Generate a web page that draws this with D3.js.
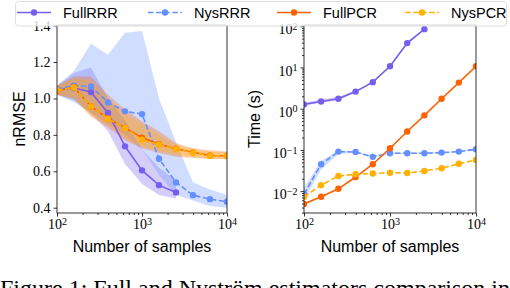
<!DOCTYPE html>
<html>
<head>
<meta charset="utf-8">
<script src="https://cdn.jsdelivr.net/npm/d3@7"></script>
<style>
body { margin: 0; background: #fff; }
svg { display: block; }
.axis text { font-family: "Liberation Serif", serif; font-size: 14px; fill: #000; }
.axis path, .axis line { stroke: #000; stroke-width: 0.8; }
.label { font-family: "Liberation Sans", Arial, sans-serif; font-size: 16px; }
.legend text { font-family: "Liberation Sans", Arial, sans-serif; font-size: 14.5px; }
</style>
</head>
<body>
<div id="chart"></div>
<script>
// Sample sizes (x axis, shared by both panels)
const samples = [100, 158, 251, 398, 631, 1000, 1585, 2512, 3981, 6310, 10000];

// Left panel: nRMSE
const fullRRRErr = [1.048, 1.057, 1.035, 0.92, 0.737, 0.605, 0.524, 0.484];
const fullRRRErrLo = [1.02, 0.99, 0.92, 0.82, 0.64, 0.53, 0.47, 0.45];
const fullRRRErrHi = [1.07, 1.14, 1.17, 1.0, 0.88, 0.72, 0.62, 0.55];
const nysRRRErr = [1.05, 1.07, 1.066, 0.978, 0.929, 0.914, 0.669, 0.539, 0.469, 0.447, 0.433];
const nysRRRErrLo = [1.02, 0.98, 0.92, 0.86, 0.8, 0.72, 0.58, 0.47, 0.44, 0.41, 0.40];
const nysRRRErrHi = [1.07, 1.15, 1.30, 1.24, 1.36, 1.37, 1.0, 0.76, 0.54, 0.50, 0.47];
const fullPCRErr = [1.042, 1.062, 0.956, 0.89, 0.838, 0.785, 0.748, 0.724, 0.704, 0.687, 0.685];
const fullPCRErrLo = [1.02, 1.0, 0.9, 0.84, 0.77, 0.727, 0.70, 0.68, 0.673, 0.668, 0.667];
const fullPCRErrHi = [1.07, 1.12, 1.12, 1.02, 0.94, 0.874, 0.82, 0.755, 0.727, 0.715, 0.709];
const nysPCRErr = [1.045, 1.06, 0.956, 0.888, 0.837, 0.773, 0.746, 0.722, 0.703, 0.685, 0.685];
const nysPCRErrLo = [1.02, 1.0, 0.91, 0.85, 0.78, 0.735, 0.71, 0.69, 0.678, 0.67, 0.668];
const nysPCRErrHi = [1.07, 1.11, 1.10, 1.0, 0.92, 0.86, 0.80, 0.745, 0.72, 0.708, 0.705];

// Right panel: time (s)
const fullRRRTime = [1.27, 1.5, 1.74, 2.6, 4.4, 10.7, 39, 85];
const fullRRRTimeLo = [1.2, 1.4, 1.6, 2.5, 4.2, 10.2, 37, 82];
const fullRRRTimeHi = [1.35, 1.7, 1.95, 2.75, 4.6, 11.2, 41, 88];
const nysRRRTime = [0.0085, 0.045, 0.091, 0.089, 0.068, 0.083, 0.083, 0.083, 0.086, 0.091, 0.104];
const nysRRRTimeLo = [0.006, 0.033, 0.08, 0.085, 0.065, 0.08, 0.08, 0.08, 0.083, 0.088, 0.1];
const nysRRRTimeHi = [0.012, 0.055, 0.096, 0.093, 0.072, 0.086, 0.086, 0.086, 0.089, 0.094, 0.108];
const fullPCRTime = [0.0049, 0.0073, 0.0114, 0.022, 0.045, 0.11, 0.28, 0.69, 1.74, 4.3, 10.7];
const nysPCRTime = [0.0073, 0.014, 0.0234, 0.0257, 0.0267, 0.028, 0.0275, 0.031, 0.036, 0.046, 0.057];

const names = ['FullRRR', 'NysRRR', 'FullPCR', 'NysPCR'];
const colors = ['#785EF0', '#648FFF', '#FE6100', '#FFB000'];
const dashed = [false, true, false, true];

const width = 510, height = 288;
const svg = d3.select('#chart').append('svg')
    .attr('width', width)
    .attr('height', height);

// Zip a series into point objects
function pts(ys, lo, hi) {
    return ys.map((y, i) => ({x: samples[i], y: y, lo: lo ? lo[i] : y, hi: hi ? hi[i] : y}));
}

function supLabel(sel, d) {
    const e = Math.round(Math.log10(d));
    sel.text(null);
    sel.append('tspan').text('10');
    sel.append('tspan').attr('dy', '-0.45em').attr('font-size', '0.72em')
        .text(e < 0 ? '\u2212' + (-e) : e);
}

function panel(opts) {
    const x = d3.scaleLog().domain([100, 10000]).range([opts.x0, opts.x1]);
    const y = opts.y;

    const clipId = 'clip' + opts.id;
    svg.append('clipPath').attr('id', clipId).append('rect')
        .attr('x', opts.x0).attr('y', opts.y0)
        .attr('width', opts.x1 - opts.x0).attr('height', opts.y1 - opts.y0);

    const g = svg.append('g').attr('clip-path', 'url(#' + clipId + ')');

    // Bands first
    const area = d3.area().x(d => x(d.x)).y0(d => y(d.lo)).y1(d => y(d.hi));
    opts.series.forEach((s, i) => {
        if (!s.band) return;
        g.append('path').datum(s.data)
            .attr('d', area)
            .attr('fill', colors[i])
            .attr('fill-opacity', 0.3);
    });

    // Lines and markers
    const line = d3.line().x(d => x(d.x)).y(d => y(d.y));
    opts.series.forEach((s, i) => {
        g.append('path').datum(s.data)
            .attr('d', line)
            .attr('fill', 'none')
            .attr('stroke', colors[i])
            .attr('stroke-width', 1.6)
            .attr('stroke-dasharray', dashed[i] ? '5.5,2.6' : null);
        g.selectAll('.pt' + i).data(s.data).enter().append('circle')
            .attr('cx', d => x(d.x))
            .attr('cy', d => y(d.y))
            .attr('r', 3.2)
            .attr('fill', colors[i]);
    });

    // Frame
    svg.append('rect')
        .attr('x', opts.x0).attr('y', opts.y0)
        .attr('width', opts.x1 - opts.x0).attr('height', opts.y1 - opts.y0)
        .attr('fill', 'none').attr('stroke', '#000').attr('stroke-width', 0.8);

    // X axis
    const minorX = [];
    [100, 1000].forEach(b => { for (let k = 2; k < 10; k++) minorX.push(b * k); });
    svg.append('g').attr('class', 'axis')
        .attr('transform', 'translate(0,' + opts.y1 + ')')
        .call(d3.axisBottom(x).tickValues(minorX).tickSize(2).tickFormat(''))
        .call(a => a.select('.domain').remove());
    const xa = svg.append('g').attr('class', 'axis')
        .attr('transform', 'translate(0,' + opts.y1 + ')')
        .call(d3.axisBottom(x).tickValues([100, 1000, 10000]).tickSize(3.5).tickPadding(3))
        .call(a => a.select('.domain').remove());
    xa.selectAll('.tick text').each(function(d) { supLabel(d3.select(this), d); });

    // Y axis
    const ya = svg.append('g').attr('class', 'axis')
        .attr('transform', 'translate(' + opts.x0 + ',0)');
    if (opts.log) {
        const minorY = [];
        [0.001, 0.01, 0.1, 1, 10].forEach(b => { for (let k = 2; k < 10; k++) minorY.push(b * k); });
        svg.append('g').attr('class', 'axis')
            .attr('transform', 'translate(' + opts.x0 + ',0)')
            .call(d3.axisLeft(y).tickValues(minorY.filter(v => v >= y.domain()[0] && v <= y.domain()[1])).tickSize(2).tickFormat(''))
            .call(a => a.select('.domain').remove());
        ya.call(d3.axisLeft(y).tickValues([0.01, 0.1, 1, 10, 100]).tickSize(3.5).tickPadding(3))
            .call(a => a.select('.domain').remove());
        ya.selectAll('.tick text').each(function(d) { supLabel(d3.select(this), d); }).attr('dy', '0.55em');
    } else {
        ya.call(d3.axisLeft(y).tickValues(opts.yTicks).tickSize(3.5).tickPadding(3).tickFormat(d3.format('.1f')))
            .call(a => a.select('.domain').remove());
    }

    // Axis titles
    svg.append('text').attr('class', 'label')
        .attr('x', (opts.x0 + opts.x1) / 2).attr('y', 252)
        .attr('text-anchor', 'middle')
        .text('Number of samples');
    svg.append('text').attr('class', 'label')
        .attr('transform', 'translate(' + opts.labelX + ',' + ((opts.y0 + opts.y1) / 2) + ') rotate(-90)')
        .attr('text-anchor', 'middle')
        .text(opts.yTitle);
}

// Left panel
panel({
    id: 'L', x0: 57, x1: 227, y0: 25, y1: 213,
    y: d3.scaleLinear().domain([0.371, 1.403]).range([213, 25]),
    yTicks: [0.4, 0.6, 0.8, 1.0, 1.2, 1.4],
    yTitle: 'nRMSE', labelX: 25,
    series: [
        {data: pts(fullRRRErr, fullRRRErrLo, fullRRRErrHi), band: true},
        {data: pts(nysRRRErr, nysRRRErrLo, nysRRRErrHi), band: true},
        {data: pts(fullPCRErr, fullPCRErrLo, fullPCRErrHi), band: true},
        {data: pts(nysPCRErr, nysPCRErrLo, nysPCRErrHi), band: true}
    ]
});

// Right panel
panel({
    id: 'R', x0: 304, x1: 476, y0: 25, y1: 213, log: true,
    y: d3.scaleLog().domain([Math.pow(10, -2.53), Math.pow(10, 2.03)]).range([213, 25]),
    yTitle: 'Time (s)', labelX: 260,
    series: [
        {data: pts(fullRRRTime, fullRRRTimeLo, fullRRRTimeHi), band: true},
        {data: pts(nysRRRTime, nysRRRTimeLo, nysRRRTimeHi), band: true},
        {data: pts(fullPCRTime)},
        {data: pts(nysPCRTime)}
    ]
});

// Legend across the top
const leg = svg.append('g').attr('class', 'legend');
leg.append('rect')
    .attr('x', 15.5).attr('y', 1.5).attr('width', 491).attr('height', 24.5).attr('rx', 3)
    .attr('fill', '#fff').attr('fill-opacity', 0.8)
    .attr('stroke', '#d6d6d6').attr('stroke-width', 0.8);
const legX = [17, 148, 277, 405];
names.forEach((n, i) => {
    const lx = legX[i];
    leg.append('line')
        .attr('x1', lx).attr('x2', lx + 34).attr('y1', 12.5).attr('y2', 12.5)
        .attr('stroke', colors[i]).attr('stroke-width', 1.6)
        .attr('stroke-dasharray', dashed[i] ? '5.5,2.6' : null);
    leg.append('circle').attr('cx', lx + 17).attr('cy', 12.5).attr('r', 3.2).attr('fill', colors[i]);
    leg.append('text').attr('x', lx + 46).attr('y', 17.5).text(n);
});

// Caption, cut by the bottom edge as in the page it came from
svg.append('text')
    .attr('x', 0).attr('y', 296)
    .attr('font-family', '"Liberation Serif", serif')
    .attr('font-size', 24)
    .text('Figure 1: Full and Nyström estimators comparison in the');
</script>
</body>
</html>
